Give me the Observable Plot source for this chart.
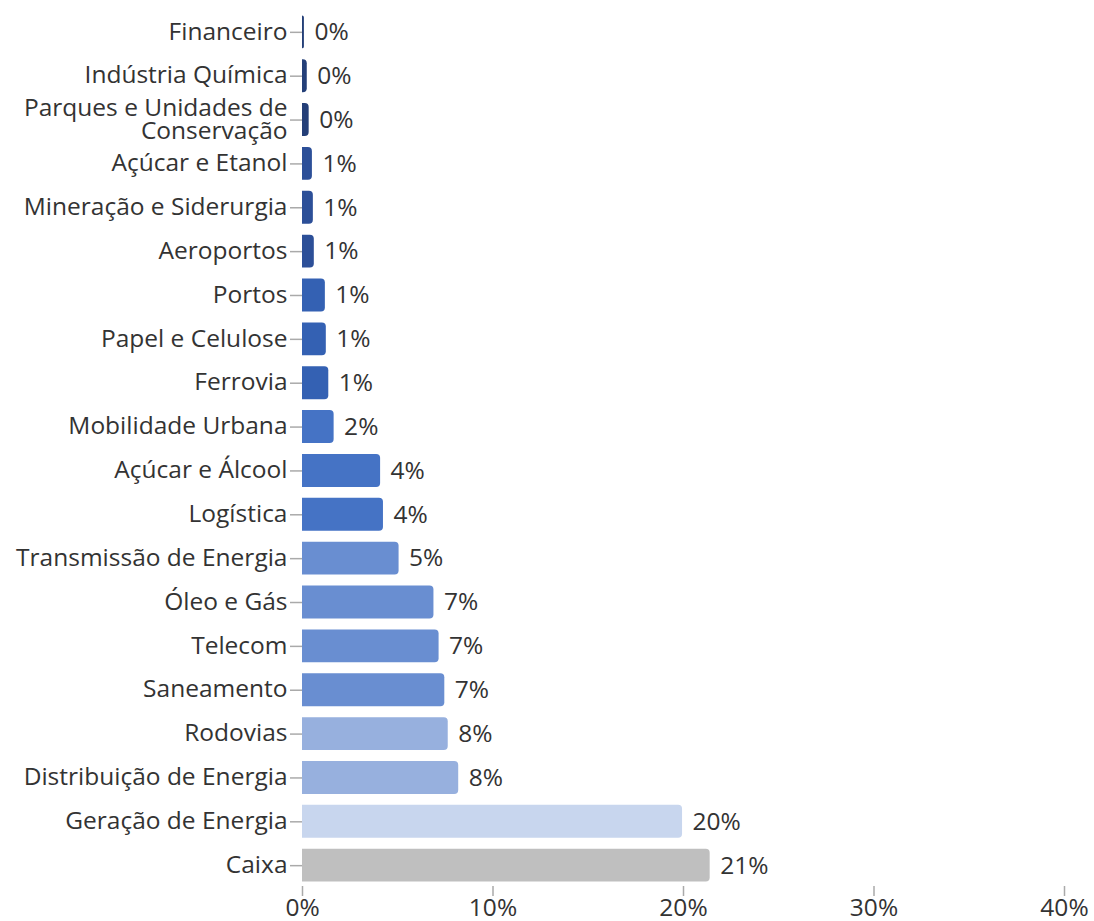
<!DOCTYPE html>
<html>
<head>
<meta charset="utf-8">
<script src="https://cdn.jsdelivr.net/npm/d3@7"></script>
<script src="https://cdn.jsdelivr.net/npm/@observablehq/plot@0.6"></script>
<style>
  body { margin: 0; background: #fff; }
</style>
</head>
<body>
<div id="chart"></div>
<script>
const categories = [
  "Financeiro",
  "Indústria Química",
  "Parques e Unidades de\nConservação",
  "Açúcar e Etanol",
  "Mineração e Siderurgia",
  "Aeroportos",
  "Portos",
  "Papel e Celulose",
  "Ferrovia",
  "Mobilidade Urbana",
  "Açúcar e Álcool",
  "Logística",
  "Transmissão de Energia",
  "Óleo e Gás",
  "Telecom",
  "Saneamento",
  "Rodovias",
  "Distribuição de Energia",
  "Geração de Energia",
  "Caixa"
];
const values = [
  0.001, 0.0025, 0.0035, 0.0052, 0.0057, 0.0062,
  0.012, 0.0125, 0.0138, 0.0166,
  0.041, 0.0425, 0.0507, 0.069, 0.0717, 0.0747,
  0.0765, 0.082, 0.1995, 0.214
];
const groups = [
  "g0", "g0", "g0", "g1", "g1", "g1",
  "g2", "g2", "g2", "g3", "g3", "g3",
  "g4", "g4", "g4", "g4", "g5", "g5", "g6", "g7"
];
const groupDomain = ["g0", "g1", "g2", "g3", "g4", "g5", "g6", "g7"];
const palette = ["#243f78", "#2c4f98", "#3461b3", "#4573c5", "#698ed1", "#97b0de", "#c8d6ee", "#bfbfbf"];
const xTicks = [0, 0.1, 0.2, 0.3, 0.4];

const data = categories.map((c, i) => ({category: c, value: values[i], group: groups[i]}));
const pct = d3.format(".0%");
const FS = 24.5;

const chart = Plot.plot({
  width: 1094,
  height: 921,
  marginLeft: 302,
  marginRight: 30,
  marginTop: 11,
  marginBottom: 35,
  style: {fontFamily: "'Open Sans', sans-serif", fontSize: FS + "px", color: "#333", background: "#fff"},
  x: {domain: [0, 0.4], round: false},
  y: {domain: categories, paddingInner: 0.25, paddingOuter: 0.1, round: false},
  color: {domain: groupDomain, range: palette},
  marks: [
    Plot.barX(data, {x: "value", y: "category", fill: "group", rx2: 4}),
    Plot.text(data, {x: "value", y: "category", text: d => pct(d.value), textAnchor: "start", dx: 10, fill: "#333", fontSize: FS}),
    Plot.axisX({ticks: xTicks, tickFormat: pct, tickSize: 10, tickPadding: 2, stroke: "#aaa", fill: "#333", strokeWidth: 1.5, line: true, label: null, fontSize: FS}),
    Plot.axisY({tickSize: 12, tickPadding: 3, stroke: "#aaa", fill: "#333", strokeWidth: 1.5, line: true, label: null, fontSize: FS, lineHeight: 0.92})
  ]
});
document.getElementById("chart").appendChild(chart);
</script>
</body>
</html>
